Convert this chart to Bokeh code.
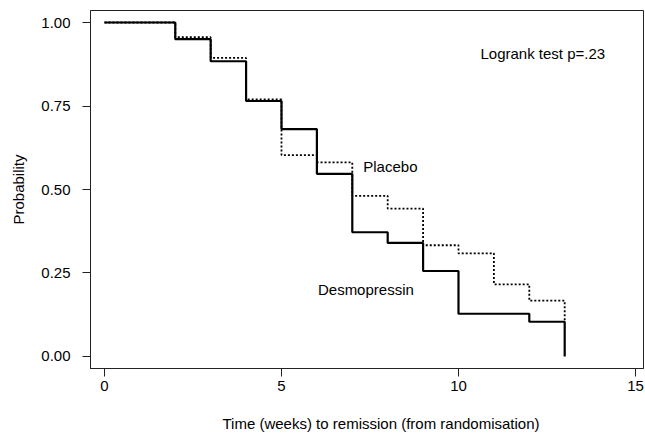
from bokeh.plotting import figure
from bokeh.models import Label, FixedTicker, Range1d, Title
from bokeh.embed import file_html
from bokeh.resources import INLINE

# Kaplan-Meier estimates
desmo_weeks = [0, 2, 3, 4, 5, 6, 7, 8, 9, 10, 12, 13]
desmo_prob = [1.0, 0.950, 0.884, 0.765, 0.681, 0.547, 0.372, 0.340, 0.256, 0.128, 0.104, 0.0]

placebo_weeks = [0, 2, 3, 4, 5, 6, 7, 8, 9, 10, 11, 12, 13]
placebo_prob = [1.0, 0.956, 0.894, 0.770, 0.603, 0.581, 0.481, 0.443, 0.333, 0.309, 0.216, 0.167, 0.104]

x_ticks = [0, 5, 10, 15]
y_ticks = [0.0, 0.25, 0.5, 0.75, 1.0]
y_tick_labels = ["0.00", "0.25", "0.50", "0.75", "1.00"]

FONT = "Liberation Sans"

p = figure(width=645, height=439, output_backend="svg", toolbar_location=None,
           x_range=Range1d(-0.395, 15.226), y_range=Range1d(-0.036, 1.036),
           min_border_left=90, min_border_right=2, min_border_top=10, min_border_bottom=71)

p.background_fill_color = "white"
p.border_fill_color = "white"
p.grid.visible = False
p.outline_line_color = "#222222"
p.outline_line_width = 1

for ax in (p.xaxis[0], p.yaxis[0]):
    ax.axis_line_color = "#222222"
    ax.major_tick_line_color = "#222222"
    ax.major_tick_in = 0
    ax.major_tick_out = 8
    ax.minor_tick_line_color = None
    ax.major_label_text_font = FONT
    ax.major_label_text_font_size = "15px"
    ax.major_label_text_color = "black"
    ax.axis_label_text_font = FONT
    ax.axis_label_text_font_size = "15px"
    ax.axis_label_text_font_style = "normal"
    ax.axis_label_text_color = "black"

p.xaxis.ticker = FixedTicker(ticks=x_ticks)
p.xaxis.major_label_standoff = 4
p.yaxis.ticker = FixedTicker(ticks=y_ticks)
p.yaxis.major_label_overrides = {t: l for t, l in zip(y_ticks, y_tick_labels)}
p.yaxis.major_label_standoff = 12
p.yaxis.axis_label = "Probability"
p.yaxis.axis_label_standoff = 11

spacer = Title(text=" ", text_font=FONT, text_font_size="11px", standoff=0)
p.add_layout(spacer, "below")
xlabel = Title(text="Time (weeks)  to remission (from randomisation)", align="left",
               offset=132, standoff=10, text_font=FONT, text_font_size="15px",
               text_font_style="normal", text_color="black")
p.add_layout(xlabel, "below")

p.step(placebo_weeks, placebo_prob, mode="after", line_color="black",
       line_width=1.8, line_dash="2 2")
p.step(desmo_weeks, desmo_prob, mode="after", line_color="black", line_width=2.2)

def lab(x, y, text, align="left"):
    p.add_layout(Label(x=x, y=y, text=text, text_font=FONT, text_font_size="15px",
                       text_color="black", text_baseline="middle", text_align=align))

lab(10.62, 0.907, "Logrank test p=.23")
lab(7.31, 0.569, "Placebo")
lab(6.03, 0.201, "Desmopressin")

open("out.html", "w").write(file_html(p, INLINE))
